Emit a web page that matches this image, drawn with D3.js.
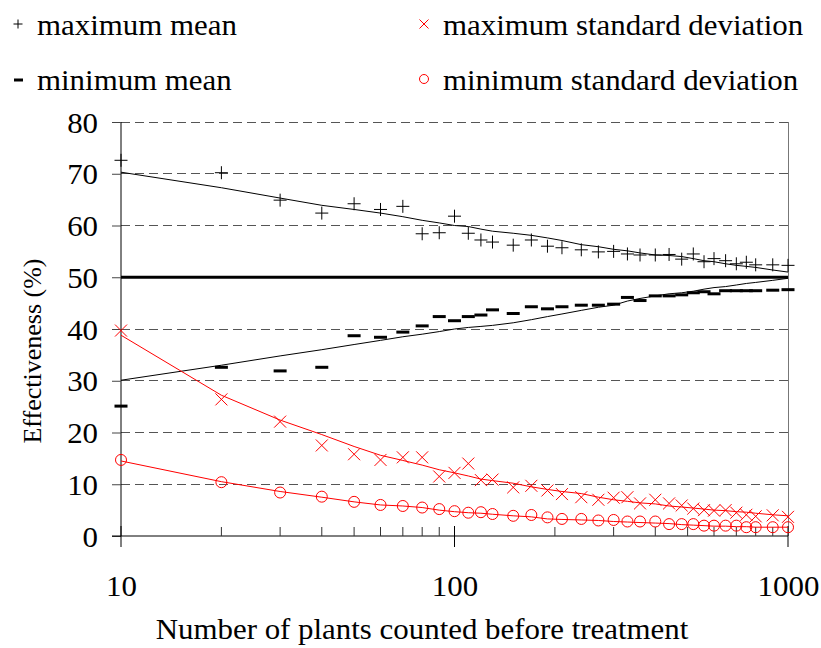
<!DOCTYPE html>
<html>
<head>
<meta charset="utf-8">
<script src="https://cdn.jsdelivr.net/npm/d3@7/dist/d3.min.js"></script>
<style>
  html, body { margin: 0; padding: 0; background: #fff; }
  svg { display: block; }
  text { font-family: "Liberation Serif", "Times New Roman", serif; fill: #000; }
</style>
</head>
<body>
<svg id="chart" width="821" height="648"></svg>
<script>
// ---- data ----
const plants = [10,20,30,40,50,60,70,80,90,100,110,120,130,150,170,190,210,240,270,300,330,360,400,440,480,520,560,600,650,700,750,800,900,1000];
const maxMean = [72.6,70.2,64.9,62.4,64.2,63.1,63.7,58.4,58.6,61.8,58.5,57.2,56.8,56.2,57.2,56.0,55.7,55.3,54.9,55.0,54.5,54.3,54.3,54.4,53.5,54.5,53.0,53.6,53.2,52.6,52.9,52.4,52.4,52.3];
const minMean = [25.1,32.6,31.9,32.6,38.7,38.4,39.4,40.6,42.4,41.6,42.4,42.7,43.7,43.0,44.3,43.9,44.3,44.6,44.6,44.8,46.1,45.5,46.4,46.4,46.6,47.0,47.2,46.8,47.4,47.4,47.4,47.4,47.5,47.6];
const maxSD = [39.7,26.4,22.1,17.5,15.8,14.7,15.2,15.2,11.5,12.2,14.0,10.8,10.9,9.4,9.7,8.8,8.1,7.5,7.0,7.4,7.5,6.3,7.0,6.3,5.9,5.3,5.0,4.9,5.0,4.5,4.1,3.8,4.0,3.7];
const minSD = [14.7,10.4,8.4,7.6,6.6,6.0,5.8,5.5,5.2,4.8,4.5,4.6,4.25,3.9,4.06,3.6,3.3,3.3,3.0,3.1,2.8,2.8,2.8,2.3,2.3,2.3,2.0,2.0,2.0,2.0,1.7,1.7,1.7,1.7];
const maxMeanTrend = [70.3,67.3,65.3,63.9,63.1,62.4,61.7,61.0,60.5,60.0,59.8,59.3,58.9,58.5,58.1,57.6,57.1,56.3,55.9,55.4,55.1,54.7,54.3,54.2,54.0,53.6,53.2,53.0,52.6,52.3,52.1,51.9,51.4,51.0];
const minMeanTrend = [30.1,33.0,34.8,36.0,37.0,37.8,38.5,39.0,39.5,40.0,40.3,40.5,40.7,41.2,41.8,42.4,42.9,43.6,44.2,44.6,45.4,45.9,46.4,46.8,47.0,47.3,47.7,48.0,48.2,48.5,48.8,49.0,49.4,49.8];
const maxSDTrend = [38.8,27.2,22.4,19.6,17.3,15.6,14.6,13.7,12.8,12.2,11.6,11.0,10.7,10.2,9.5,9.0,8.6,8.2,7.5,7.0,6.7,6.4,6.2,5.8,5.6,5.4,5.2,5.0,4.9,4.7,4.6,4.4,4.1,3.9];
const minSDTrend = [14.5,10.5,8.6,7.5,6.6,6.0,5.8,5.5,5.0,4.7,4.5,4.4,4.2,3.9,3.7,3.3,3.2,3.1,3.0,2.8,2.7,2.6,2.5,2.4,2.2,2.1,2.0,1.9,1.9,1.8,1.8,1.7,1.7,1.7];
const referenceLevel = 50;
const yTicks = [0,10,20,30,40,50,60,70,80];
const xMajorTicks = [10,100,1000];
const xMinorTicks = [20,30,40,50,60,70,80,90,200,300,400,500,600,700,800,900];
const legendItems = ["maximum mean","minimum mean","maximum standard deviation","minimum standard deviation"];
const xTitle = "Number of plants counted before treatment";
const yTitle = "Effectiveness (%)";

// ---- layout ----
const L = 121, R = 788, T = 122, B = 536;
const SX = 1.03;
const FS = 30;
const FSV = 26;
const RED = "#ff0000";

const svg = d3.select("#chart");
const x = d3.scaleLog().domain([10, 1000]).range([L, R]);
const y = d3.scaleLinear().domain([0, 80]).range([B, T]);

function htext(parent, px, py, str, anchor) {
  const g = parent.append("g").attr("transform", `translate(${px},${py}) scale(${SX},1)`);
  g.append("text").attr("text-anchor", anchor || "start").attr("font-size", FS).text(str);
  return g;
}

// gridlines
svg.append("g").selectAll("line").data(yTicks.filter(d => d > 0)).join("line")
  .attr("x1", L).attr("x2", R).attr("y1", d => y(d)).attr("y2", d => y(d))
  .attr("stroke", "#555").attr("stroke-width", 1).attr("stroke-dasharray", "9,5")
  .attr("shape-rendering", "crispEdges");

// right border
svg.append("line").attr("x1", R).attr("x2", R).attr("y1", T).attr("y2", B)
  .attr("stroke", "#777").attr("stroke-width", 1).attr("shape-rendering", "crispEdges");

// y axis
const yAxis = svg.append("g").attr("transform", `translate(${L},0)`)
  .call(d3.axisLeft(y).tickValues(yTicks).tickSize(9).tickPadding(14).tickFormat(d3.format("d")));
yAxis.select(".domain").attr("stroke", "#000").attr("d", `M0,${T}V${B}`);
yAxis.selectAll(".tick line").attr("stroke", "#444");
yAxis.selectAll(".tick text").attr("font-size", FS).attr("font-family", "Liberation Serif")
  .attr("x", -23 / SX).attr("transform", `scale(${SX},1)`).attr("dy", "0.34em");

// x axis
const xAxis = svg.append("g").attr("transform", `translate(0,${B})`)
  .call(d3.axisBottom(x).tickValues(xMajorTicks).tickSize(0).tickFormat(d3.format("d")));
xAxis.select(".domain").attr("stroke", "#000").attr("d", `M${L - 9},0H${R}`);
xAxis.selectAll(".tick text").attr("font-size", FS).attr("font-family", "Liberation Serif")
  .attr("y", 60).attr("dy", 0).attr("transform", `scale(${SX},1)`);
svg.append("g").selectAll("line").data(xMajorTicks).join("line")
  .attr("x1", d => x(d)).attr("x2", d => x(d)).attr("y1", B - 10).attr("y2", B + 11)
  .attr("stroke", "#000").attr("stroke-width", 1);
svg.append("g").selectAll("line").data(xMinorTicks).join("line")
  .attr("x1", d => x(d)).attr("x2", d => x(d)).attr("y1", B - 9).attr("y2", B)
  .attr("stroke", "#333").attr("stroke-width", 1);

// reference level 50
svg.append("line").attr("x1", L).attr("x2", R).attr("y1", y(referenceLevel)).attr("y2", y(referenceLevel))
  .attr("stroke", "#000").attr("stroke-width", 3);

// trend lines
const line = d3.line().x((d, i) => x(plants[i])).y(d => y(d));
function trend(arr, color) {
  svg.append("path").datum(arr).attr("d", line).attr("fill", "none")
    .attr("stroke", color).attr("stroke-width", 1);
}
trend(maxMeanTrend, "#000");
trend(minMeanTrend, "#000");
trend(maxSDTrend, RED);
trend(minSDTrend, RED);

// markers
const plus = (s) => `M${-s},0H${s}M0,${-s}V${s}`;
const cross = (s) => `M${-s},${-s}L${s},${s}M${-s},${s}L${s},${-s}`;

svg.append("g").selectAll("path").data(maxMean).join("path")
  .attr("transform", (d, i) => `translate(${x(plants[i])},${y(d)})`)
  .attr("d", plus(6.5)).attr("stroke", "#000").attr("stroke-width", 1).attr("fill", "none");

svg.append("g").selectAll("line").data(minMean).join("line")
  .attr("x1", (d, i) => x(plants[i]) - 6.5).attr("x2", (d, i) => x(plants[i]) + 6.5)
  .attr("y1", d => y(d)).attr("y2", d => y(d))
  .attr("stroke", "#000").attr("stroke-width", 3);

svg.append("g").selectAll("path").data(maxSD).join("path")
  .attr("transform", (d, i) => `translate(${x(plants[i])},${y(d)})`)
  .attr("d", cross(6)).attr("stroke", RED).attr("stroke-width", 1).attr("fill", "none");

svg.append("g").selectAll("circle").data(minSD).join("circle")
  .attr("cx", (d, i) => x(plants[i])).attr("cy", d => y(d)).attr("r", 5.5)
  .attr("stroke", RED).attr("stroke-width", 1).attr("fill", "none");

// legend
const lg = svg.append("g");
lg.append("path").attr("transform", "translate(18,24)").attr("d", plus(4.5))
  .attr("stroke", "#000").attr("fill", "none");
lg.append("line").attr("x1", 14).attr("x2", 23).attr("y1", 80).attr("y2", 80)
  .attr("stroke", "#000").attr("stroke-width", 3);
lg.append("path").attr("transform", "translate(424,24)").attr("d", cross(4.5))
  .attr("stroke", RED).attr("fill", "none");
lg.append("circle").attr("cx", 424).attr("cy", 79).attr("r", 4.5)
  .attr("stroke", RED).attr("fill", "none");
htext(lg, 37, 35, legendItems[0]);
htext(lg, 37, 90, legendItems[1]);
htext(lg, 443, 35, legendItems[2]);
htext(lg, 443, 90, legendItems[3]);

// axis titles
htext(svg, 422, 639, xTitle, "middle");
svg.append("text").attr("transform", "translate(41,351) rotate(-90)")
  .attr("text-anchor", "middle").attr("font-size", FSV).text(yTitle);
</script>
</body>
</html>
